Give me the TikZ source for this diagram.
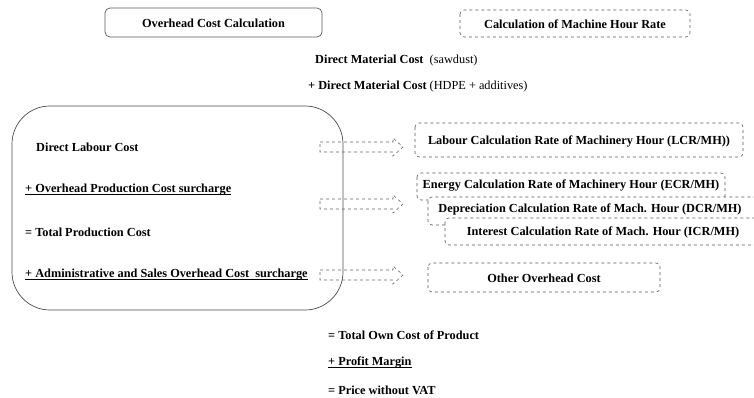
\documentclass[tikz,border=0pt]{standalone}
\usepackage{fontspec}
\setmainfont{Liberation Serif}
\newcommand\myul[1]{\setbox0\hbox{#1}\rlap{\raisebox{-1.8pt}{\rule{\wd0}{0.7pt}}}\box0}
\begin{document}
\begin{tikzpicture}[x=1pt,y=-1pt,
  every node/.style={font=\bfseries\fontsize{12.3}{14}\selectfont, inner sep=0pt},
  solidbox/.style={draw=black!65, line width=0.7pt, rounded corners=5pt},
  dbox/.style={draw=black!65, dashed, line width=0.6pt, rounded corners=4pt, fill=white},
  darrow/.style={draw=black!60, dashed, line width=0.6pt},
  lt/.style={anchor=west}
]
\useasboundingbox (0,0) rectangle (754,398);
% top boxes
\draw[solidbox] (105,8) rectangle (322,37);
\node (occ) at (213.5,23) {Overhead Cost Calculation};
\draw[dbox] (460,10) rectangle (690,37);
\node (mhr) at (575,24) {Calculation of Machine Hour Rate};
% material lines
\node[lt] (dm1) at (315,61) {Direct Material Cost\ \ \textmd{(sawdust)}};
\node[lt] (dm2) at (308,87) {+ Direct Material Cost \textmd{(HDPE + additives)}};
% big box
\draw[black!70, line width=0.7pt, rounded corners=38pt] (12,106) rectangle (343,310);
\node[lt] (dlc) at (36,147) {Direct Labour Cost};
\node[lt] (opc) at (25,190) {\myul{+ Overhead Production Cost surcharge}};
\node[lt] (tpc) at (25,232) {= Total Production Cost};
\node[lt] (aso) at (25,275) {\myul{+ Administrative and Sales Overhead Cost\ \ surcharge}};
% arrows
\foreach \yy/\nm in {147/a1,204/a2,275/a3}{
  \draw[darrow] (320,\yy-5) -- (393,\yy-5) -- (393,\yy-9) -- (403,\yy) -- (393,\yy+9) -- (393,\yy+5) -- (320,\yy+5) -- cycle;
  \coordinate (\nm) at (403,\yy);
}
% right boxes
\draw[dbox] (415,123) rectangle (743,157);
\node (lcr) at (579,141) {Labour Calculation Rate of Machinery Hour (LCR/MH))};
\draw[dbox] (417,173) rectangle (725,200);
\node (ecr) at (571,186) {Energy Calculation Rate of Machinery Hour (ECR/MH)};
\draw[dbox] (428,197) rectangle (770,225);
\node (dcr) at (590,209) {Depreciation Calculation Rate of Mach. Hour (DCR/MH)};
\draw[dbox] (445,218) rectangle (770,245);
\node (icr) at (603,232) {Interest Calculation Rate of Mach. Hour (ICR/MH)};
\draw[dbox] (428,263) rectangle (660,292);
\node (ooc) at (544,278) {Other Overhead Cost};
% bottom
\node[lt] (toc) at (328,335) {= Total Own Cost of Product};
\node[lt] (pm) at (328,363) {\myul{+ Profit Margin}};
\node[lt] (pwv) at (328,390) {= Price without VAT};
\end{tikzpicture}
\end{document}
